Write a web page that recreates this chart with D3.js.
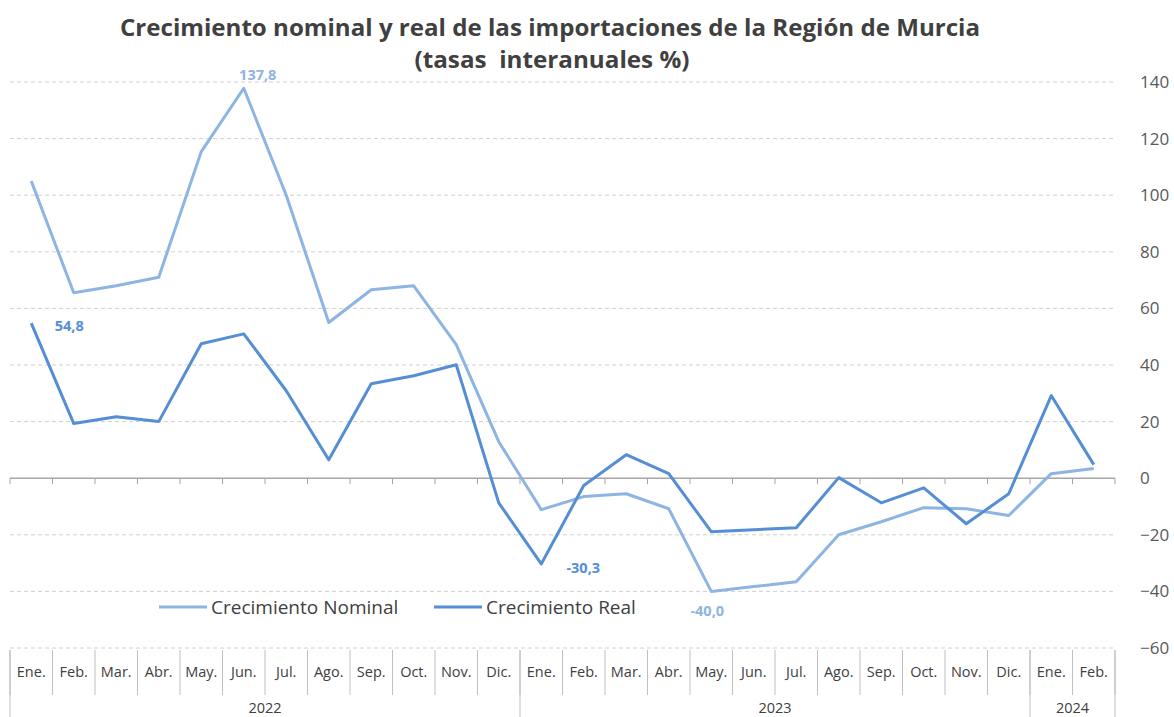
<!DOCTYPE html>
<html>
<head>
<meta charset="utf-8">
<script src="https://cdn.jsdelivr.net/npm/d3@7"></script>
<style>
  body { margin: 0; background: #fff; }
  text { font-family: "Open Sans", sans-serif; }
</style>
</head>
<body>
<div id="chart"></div>
<script>
// chart size
var svgWidth = 1174;
var svgHeight = 717;

// data
var months = ["Ene.", "Feb.", "Mar.", "Abr.", "May.", "Jun.", "Jul.", "Ago.", "Sep.", "Oct.", "Nov.", "Dic.",
  "Ene.", "Feb.", "Mar.", "Abr.", "May.", "Jun.", "Jul.", "Ago.", "Sep.", "Oct.", "Nov.", "Dic.",
  "Ene.", "Feb."];
var years = [{ year: "2022", n: 12 }, { year: "2023", n: 12 }, { year: "2024", n: 2 }];
var nominal = [105.0, 65.5, 68.0, 71.0, 115.4, 137.8, 100.0, 55.0, 66.6, 68.0, 47.2, 12.9,
  -11.1, -6.5, -5.5, -10.8, -40.0, -38.3, -36.6, -20.0, -15.4, -10.4, -10.8, -13.2,
  1.6, 3.4];
var real = [54.8, 19.3, 21.7, 20.0, 47.5, 51.0, 30.9, 6.5, 33.4, 36.2, 40.1, -8.7,
  -30.3, -2.6, 8.3, 1.6, -18.9, -18.2, -17.5, 0.2, -8.7, -3.4, -16.1, -5.5,
  29.2, 4.8];
var yTicks = [-60, -40, -20, 0, 20, 40, 60, 80, 100, 120, 140];

var colNominal = "#8db4e2";
var colReal = "#558ed5";

var margin = { top: 82, right: 59, bottom: 69, left: 10 };
var width = svgWidth - margin.left - margin.right;
var height = svgHeight - margin.top - margin.bottom;

var svg = d3.select("#chart")
  .append("svg")
  .attr("width", svgWidth)
  .attr("height", svgHeight);

var chart = svg.append("g")
  .attr("transform", `translate(${margin.left}, ${margin.top})`);

var idx = d3.range(months.length);

var x = d3.scaleBand()
  .domain(idx)
  .range([0, width]);

var y = d3.scaleLinear()
  .domain([-60, 140])
  .range([height, 0]);

// gridlines
chart.append("g")
  .selectAll("line")
  .data(yTicks.filter(d => d !== 0))
  .enter()
  .append("line")
  .attr("x1", 0)
  .attr("x2", width)
  .attr("y1", d => y(d))
  .attr("y2", d => y(d))
  .attr("stroke", "#d0d0d0")
  .attr("stroke-width", 1)
  .attr("stroke-dasharray", "4,3");

// right axis labels
var rightAxis = d3.axisRight(y).tickValues(yTicks).tickSize(0).tickPadding(25);
var ra = chart.append("g")
  .attr("transform", `translate(${width}, 0)`)
  .call(rightAxis);
ra.select(".domain").remove();
ra.selectAll("text")
  .attr("fill", "#595959")
  .style("font-size", "17px");

// zero axis with small ticks
chart.append("line")
  .attr("x1", 0).attr("x2", width)
  .attr("y1", y(0)).attr("y2", y(0))
  .attr("stroke", "#a6a6a6").attr("stroke-width", 1.5);
chart.append("g")
  .selectAll("line")
  .data(d3.range(months.length + 1))
  .enter()
  .append("line")
  .attr("x1", d => d * x.bandwidth())
  .attr("x2", d => d * x.bandwidth())
  .attr("y1", y(0))
  .attr("y2", y(0) + 6)
  .attr("stroke", "#a6a6a6");

// category axis at the bottom
var bottom = chart.append("g").attr("transform", `translate(0, ${height})`);
bottom.selectAll("line.m")
  .data(d3.range(months.length + 1))
  .enter()
  .append("line")
  .attr("class", "m")
  .attr("x1", d => d * x.bandwidth())
  .attr("x2", d => d * x.bandwidth())
  .attr("y1", 2)
  .attr("y2", 47)
  .attr("stroke", "#bfbfbf");
bottom.selectAll("text.m")
  .data(months)
  .enter()
  .append("text")
  .attr("class", "m")
  .attr("x", (d, i) => x(i) + x.bandwidth() / 2)
  .attr("y", 29)
  .attr("text-anchor", "middle")
  .attr("fill", "#404040")
  .style("font-size", "14.5px")
  .text(d => d);

var start = 0;
var yearPos = years.map(function (d) {
  var o = { year: d.year, a: start, b: start + d.n };
  start += d.n;
  return o;
});
bottom.selectAll("line.y")
  .data([0].concat(yearPos.map(d => d.b)))
  .enter()
  .append("line")
  .attr("class", "y")
  .attr("x1", d => d * x.bandwidth())
  .attr("x2", d => d * x.bandwidth())
  .attr("y1", 2)
  .attr("y2", 69)
  .attr("stroke", "#bfbfbf");
bottom.selectAll("text.y")
  .data(yearPos)
  .enter()
  .append("text")
  .attr("class", "y")
  .attr("x", d => (d.a + d.b) / 2 * x.bandwidth())
  .attr("y", 65)
  .attr("text-anchor", "middle")
  .attr("fill", "#404040")
  .style("font-size", "14.5px")
  .text(d => d.year);

// lines
var line = d3.line()
  .x((d, i) => x(i) + x.bandwidth() / 2)
  .y(d => y(d));

chart.append("path")
  .datum(nominal)
  .attr("fill", "none")
  .attr("stroke", colNominal)
  .attr("stroke-width", 3)
  .attr("stroke-linejoin", "round")
  .attr("d", line);

chart.append("path")
  .datum(real)
  .attr("fill", "none")
  .attr("stroke", colReal)
  .attr("stroke-width", 3)
  .attr("stroke-linejoin", "round")
  .attr("d", line);

// data labels
var labels = [
  { s: nominal, i: 5, dx: 14, dy: -8, c: colNominal },
  { s: real, i: 0, dx: 38, dy: 8, c: colReal },
  { s: real, i: 12, dx: 42, dy: 9, c: colReal },
  { s: nominal, i: 16, dx: -4, dy: 25, c: colNominal }
];
chart.selectAll("text.lab")
  .data(labels)
  .enter()
  .append("text")
  .attr("class", "lab")
  .attr("x", d => x(d.i) + x.bandwidth() / 2 + d.dx)
  .attr("y", d => y(d.s[d.i]) + d.dy)
  .attr("text-anchor", "middle")
  .attr("fill", d => d.c)
  .style("font-size", "14.5px")
  .style("font-weight", "bold")
  .text(d => d3.format(".1f")(d.s[d.i]).replace(".", ",").replace("\u2212", "-"));

// legend
var legend = svg.append("g").attr("transform", "translate(159, 607)");
[{ t: "Crecimiento Nominal", c: colNominal, x: 0 }, { t: "Crecimiento Real", c: colReal, x: 275 }]
  .forEach(function (d) {
    legend.append("line")
      .attr("x1", d.x).attr("x2", d.x + 48)
      .attr("y1", 0).attr("y2", 0)
      .attr("stroke", d.c).attr("stroke-width", 3);
    legend.append("text")
      .attr("x", d.x + 52)
      .attr("y", 7)
      .attr("fill", "#404040")
      .style("font-size", "19px")
      .text(d.t);
  });

// title
var title = svg.append("text")
  .attr("text-anchor", "middle")
  .attr("fill", "#404040")
  .style("font-size", "22.5px")
  .style("font-weight", "bold");
title.append("tspan").attr("x", 550).attr("y", 36)
  .attr("textLength", 860).attr("lengthAdjust", "spacingAndGlyphs")
  .text("Crecimiento nominal y real de las importaciones de la Región de Murcia");
title.append("tspan").attr("x", 552).attr("y", 68)
  .attr("textLength", 275).attr("lengthAdjust", "spacingAndGlyphs")
  .text("(tasas\u00a0\u00a0interanuales %)");
</script>
</body>
</html>
